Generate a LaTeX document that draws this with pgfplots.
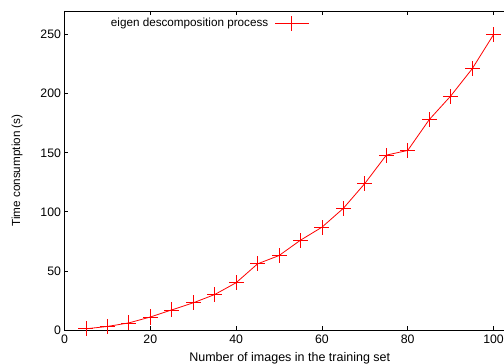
\documentclass[border=0pt]{standalone}
\usepackage{pgfplots}
\pgfplotsset{compat=1.18}
\usepackage{fontspec}
\setmainfont{Liberation Sans}
\begin{document}
\begin{tikzpicture}
\begin{axis}[
  scale only axis,
  width=450.5pt, height=319pt,
  xmin=0, xmax=105, ymin=0, ymax=270,
  clip=false,
  xtick={0,20,40,60,80,100},
  ytick={0,50,100,150,200,250},
  tick align=inside,
  tick pos=both,
  major tick length=4pt,
  axis line style={line width=0.9pt, black},
  every tick/.style={line width=0.8pt, black},
  /pgf/number format/assume math mode=true,
  tick label style={font=\fontsize{12.3}{14}\selectfont},
  xticklabel style={yshift=-1pt},
  xlabel={Number of images in the training set},
  ylabel={Time consumption (s)},
  every axis x label/.style={at={(axis description cs:0.5,-0.069)}, anchor=north, inner sep=0pt, font=\fontsize{12.5}{14}\selectfont},
  every axis y label/.style={at={(axis description cs:-0.1054,0.5)}, anchor=center, rotate=90, inner sep=0pt, font=\fontsize{11.7}{14}\selectfont},
  legend plot pos=right,
  legend cell align=right,
  legend style={at={(axis description cs:0.5434,0.9614)}, anchor=east, draw=none, fill=none,
    font=\fontsize{11.7}{14}\selectfont, inner sep=0pt, column sep=6.4pt,
    nodes={inner sep=0pt}},
  legend image code/.code={\draw[red, line width=0.8pt] (0pt,0pt) -- (33.6pt,0pt) (16.8pt,-7.5pt) -- (16.8pt,7.5pt);},
]
\addplot[color=red, line width=0.8pt, mark=none,
  error bars/.cd, x dir=both, x fixed=1.748, y dir=both, y fixed=6.35,
  error mark=none, error bar style={red, line width=0.8pt, solid}]
coordinates {
(5,1) (10,3) (15,6) (20,11) (25,17) (30,23) (35,30) (40,40) (45,56) (50,63)
(55,76) (60,87) (65,103) (70,124) (75,148) (80,152) (85,178) (90,198) (95,221) (100,250)
};
\addlegendentry{eigen descomposition process}
\end{axis}
\pgfresetboundingbox
\useasboundingbox (-64.5pt,-34pt) rectangle (439.5pt,330pt);
\end{tikzpicture}
\end{document}
